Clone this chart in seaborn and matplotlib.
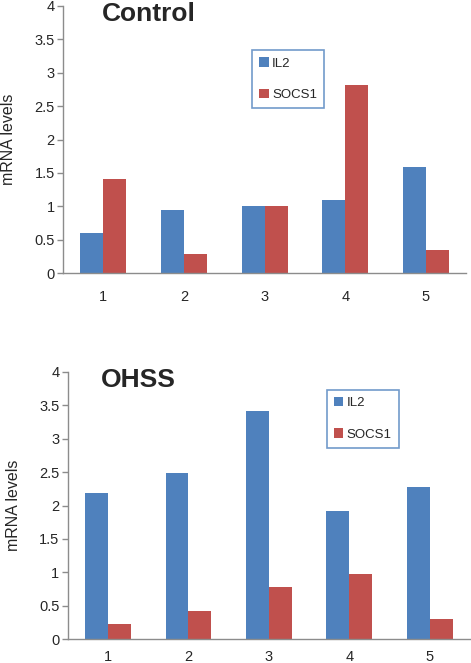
import matplotlib
matplotlib.use("Agg")
import matplotlib.pyplot as plt
import matplotlib.ticker as mticker
import seaborn as sns
import pandas as pd

# ── Data ──────────────────────────────────────────────────────────────────────
SAMPLES      = ["1", "2", "3", "4", "5"]
GENES        = ["IL2", "SOCS1"]
CONTROL_IL2  = [0.60, 0.94, 1.00, 1.09, 1.59]
CONTROL_SOCS = [1.41, 0.29, 1.00, 2.82, 0.35]
OHSS_IL2     = [2.19, 2.48, 3.41, 1.92, 2.28]
OHSS_SOCS    = [0.22, 0.42, 0.78, 0.97, 0.30]
Y_TICKS      = [0, 0.5, 1, 1.5, 2, 2.5, 3, 3.5, 4]

BLUE = "#4F81BD"
RED  = "#C0504D"
GREY = "#8C8C8C"

sns.set_style("white")
plt.rcParams["font.family"] = ["Liberation Sans", "DejaVu Sans"]


def to_long(il2, socs):
    return pd.DataFrame({
        "sample": SAMPLES * 2,
        "gene":   [GENES[0]] * len(SAMPLES) + [GENES[1]] * len(SAMPLES),
        "value":  il2 + socs,
    })


def draw_panel(ax, df, title, title_x, legend_anchor, xpad):
    sns.barplot(data=df, x="sample", y="value", hue="gene",
                palette=[BLUE, RED], width=0.57, saturation=1,
                edgecolor="none", ax=ax)
    ax.set_xlim(-0.5, 4.5)
    ax.set_ylim(0, 4)
    ax.set_yticks(Y_TICKS)
    ax.yaxis.set_major_formatter(mticker.FormatStrFormatter("%g"))
    ax.set_xlabel("")
    ax.set_ylabel("mRNA levels", fontsize=11.5, labelpad=13)
    for side in ("top", "right"):
        ax.spines[side].set_visible(False)
    for side in ("left", "bottom"):
        ax.spines[side].set_color(GREY)
        ax.spines[side].set_linewidth(1.0)
    # ticks at group boundaries on x, plain labels at centres
    ax.xaxis.set_minor_locator(mticker.FixedLocator([-0.5, 0.5, 1.5, 2.5, 3.5, 4.5]))
    ax.tick_params(axis="x", which="major", length=0, labelsize=10.5, pad=xpad)
    ax.tick_params(axis="x", which="minor", length=4, color=GREY, width=1)
    ax.tick_params(axis="y", which="major", length=4, color=GREY, width=1,
                   labelsize=10.5, pad=2, left=True)
    ax.text(title_x, 3.88, title, fontsize=19, fontweight="bold",
            ha="center", va="center")
    leg = ax.legend(loc="upper left", bbox_to_anchor=legend_anchor,
                    borderaxespad=0, frameon=True, fancybox=False, fontsize=9.5,
                    handlelength=0.7, handleheight=0.7, handletextpad=0.25,
                    labelspacing=1.45, borderpad=0.55)
    leg.get_frame().set_edgecolor(BLUE)
    leg.get_frame().set_linewidth(1.2)


fig = plt.figure(figsize=(4.71, 6.63), dpi=100)
ax_top = fig.add_axes([0.134, 0.588, 0.856, 0.403])
ax_bot = fig.add_axes([0.144, 0.036, 0.854, 0.403])

draw_panel(ax_top, to_long(CONTROL_IL2, CONTROL_SOCS), "Control", 0.56, (0.469, 0.835), 12)
draw_panel(ax_bot, to_long(OHSS_IL2, OHSS_SOCS), "OHSS", 0.38, (0.644, 0.933), 8)

fig.savefig("out.png", dpi=100)
